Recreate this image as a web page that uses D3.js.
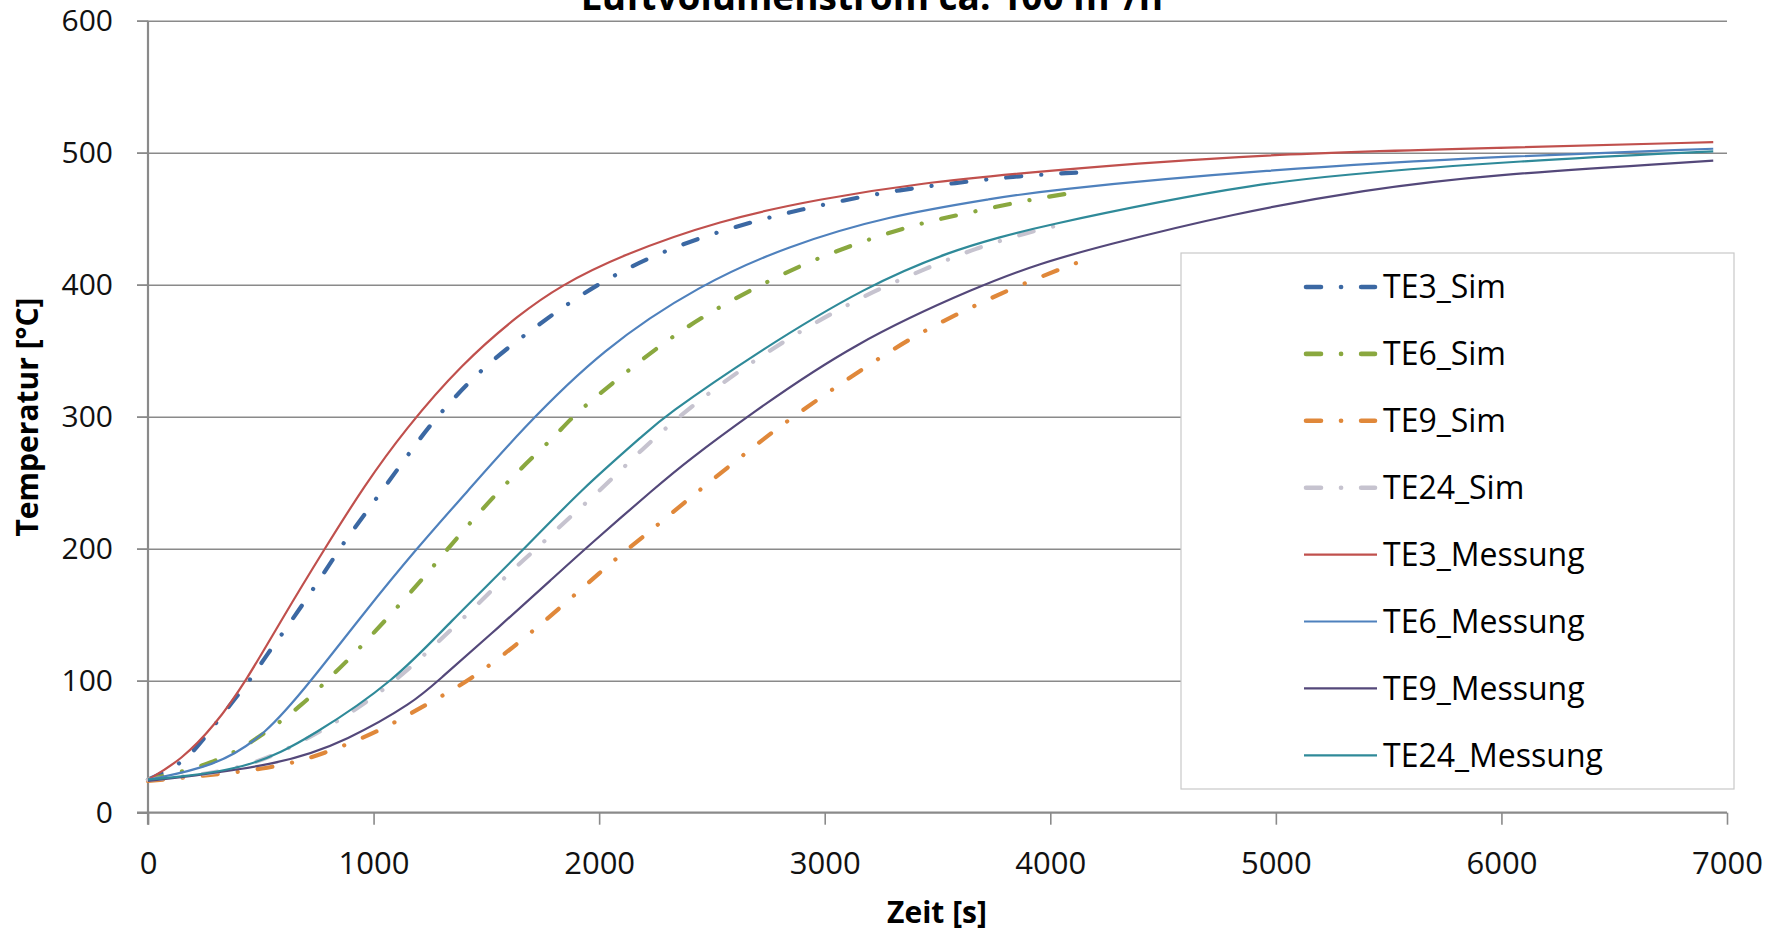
<!DOCTYPE html>
<html>
<head>
<meta charset="utf-8">
<script src="https://cdn.jsdelivr.net/npm/d3@7/dist/d3.min.js"></script>
<style>
  body { margin: 0; background: #fff; }
  svg { display: block; }
</style>
</head>
<body>
<svg id="chart"></svg>
<script>
// axis ticks
const xTicks = [0, 1000, 2000, 3000, 4000, 5000, 6000, 7000]
const yTicks = [0, 100, 200, 300, 400, 500, 600]

// series: [Zeit s, Temperatur °C]
const te3Sim = [[0, 25], [148, 37], [222, 50], [392, 88], [451, 100], [532, 121], [606, 138], [751, 174], [850, 200], [887, 209], [1034, 243], [1190, 280], [1280, 300], [1480, 337], [1708, 367], [1922, 393], [2137, 414], [2369, 431], [2602, 444], [2843, 455], [3085, 464], [3334, 472], [3577, 477], [3829, 482], [4117, 485]]
const te6Sim = [[0, 25], [296, 37], [488, 56], [702, 84], [790, 100], [879, 114], [1049, 145], [1212, 176], [1330, 200], [1374, 209], [1544, 242], [1714, 271], [1810, 286], [1885, 301], [2085, 329], [2284, 356], [2488, 379], [2706, 399], [2935, 418], [3171, 433], [3407, 446], [3651, 455], [3895, 464], [4114, 470]]
const te9Sim = [[0, 24], [562, 33], [783, 45], [1020, 61], [1234, 82], [1426, 100], [1640, 128], [1832, 156], [2010, 183], [2128, 200], [2217, 212], [2406, 239], [2595, 265], [2794, 292], [2994, 316], [3201, 340], [3415, 363], [3637, 382], [3866, 400], [4124, 417]]
const te24Sim = [[0, 25], [400, 31], [680, 53], [887, 74], [1101, 100], [1278, 128], [1463, 158], [1640, 188], [1736, 202], [1825, 217], [2017, 246], [2187, 275], [2373, 303], [2573, 329], [2780, 353], [2994, 375], [3215, 395], [3445, 412], [3673, 428], [3910, 440], [4036, 445]]
const te3Mess = [[0, 25], [148, 40], [296, 66], [436, 100], [591, 146], [783, 200], [960, 248], [1138, 290], [1390, 340], [1649, 378], [1826, 399], [2092, 422], [2536, 449], [2979, 465], [3422, 477], [3954, 486], [4900, 499], [6082, 504], [6939, 508]]
const te6Mess = [[0, 25], [296, 35], [517, 58], [724, 100], [960, 152], [1190, 200], [1419, 244], [1649, 289], [2018, 352], [2447, 400], [2831, 429], [3275, 452], [3777, 466], [3954, 471], [4930, 487], [6082, 498], [6939, 503]]
const te9Mess = [[0, 24], [591, 36], [887, 55], [1182, 84], [1285, 100], [1552, 140], [1797, 178], [1951, 202], [2261, 248], [2388, 266], [2654, 300], [3127, 356], [3696, 400], [3954, 416], [4220, 429], [4811, 454], [5402, 472], [5919, 483], [6939, 494]]
const te24Mess = [[0, 25], [443, 32], [739, 59], [1094, 100], [1330, 143], [1670, 200], [1921, 245], [2217, 289], [2280, 299], [2683, 347], [3193, 400], [3570, 426], [3777, 436], [3954, 444], [4516, 464], [4885, 475], [5255, 483], [6082, 494], [6939, 501]]

const seriesNames = ['TE3_Sim', 'TE6_Sim', 'TE9_Sim', 'TE24_Sim', 'TE3_Messung', 'TE6_Messung', 'TE9_Messung', 'TE24_Messung']
const seriesData = [te3Sim, te6Sim, te9Sim, te24Sim, te3Mess, te6Mess, te9Mess, te24Mess]
const seriesColors = ['#3b68a3', '#8aa83f', '#e0883a', '#c6c3cf', '#c0504d', '#4f81bd', '#54487a', '#2f8a99']

const W = 1781
const H = 932
const font = '"Open Sans", "Noto Sans", sans-serif'

const svg = d3.select('#chart').attr('width', W).attr('height', H)

const x = d3.scaleLinear().domain([0, 7000]).range([148, 1727])
const y = d3.scaleLinear().domain([0, 600]).range([812.7, 20.7])

// horizontal grid + left tick stubs
const gridAxis = d3.axisLeft(y).tickValues(yTicks.slice(1)).tickSize(-(1727 - 137)).tickFormat('')
svg.append('g')
  .attr('transform', 'translate(137,0)')
  .call(gridAxis)
  .call((g) => g.select('.domain').remove())
  .call((g) => g.selectAll('line').attr('stroke', '#8a8a8a').attr('stroke-width', 1.6))

// y axis labels
const yAxis = d3.axisLeft(y).tickValues(yTicks).tickSize(11).tickPadding(24)
svg.append('g')
  .attr('transform', 'translate(148,0)')
  .call(yAxis)
  .call((g) => g.select('.domain').remove())
  .call((g) => g.selectAll('line').attr('stroke', '#8a8a8a').attr('stroke-width', 1.6))
  .call((g) => g.selectAll('text').attr('font-family', font).attr('font-size', 30).attr('fill', '#111'))

// x axis
const xAxis = d3.axisBottom(x).tickValues(xTicks).tickFormat(d3.format('d')).tickSize(12).tickPadding(27)
svg.append('g')
  .attr('transform', `translate(0,${y(0)})`)
  .call(xAxis)
  .call((g) => g.select('.domain').remove())
  .call((g) => g.selectAll('line').attr('stroke', '#8a8a8a').attr('stroke-width', 1.6))
  .call((g) => g.selectAll('text').attr('font-family', font).attr('font-size', 31).attr('fill', '#111'))

// axis lines
svg.append('line')
  .attr('x1', 137).attr('x2', 1727)
  .attr('y1', y(0)).attr('y2', y(0))
  .attr('stroke', '#8a8a8a').attr('stroke-width', 2.2)
svg.append('line')
  .attr('x1', 148).attr('x2', 148)
  .attr('y1', y(600)).attr('y2', y(0) + 12)
  .attr('stroke', '#8a8a8a').attr('stroke-width', 2.2)

// lines
const line = d3.line()
  .x((d) => x(d[0]))
  .y((d) => y(d[1]))
  .curve(d3.curveBasis)

const simDash = '15 20 0.1 20'

svg.append('g')
  .selectAll('path')
  .data(seriesData)
  .join('path')
  .attr('d', line)
  .attr('fill', 'none')
  .attr('stroke', (_, i) => seriesColors[i])
  .attr('stroke-width', (_, i) => (i < 4 ? 4.2 : 2.2))
  .attr('stroke-linecap', (_, i) => (i < 4 ? 'round' : 'butt'))
  .attr('stroke-dasharray', (_, i) => (i < 4 ? simDash : null))

// title (cut off at the top, as in the original)
svg.append('text')
  .attr('x', 872)
  .attr('y', 10)
  .attr('text-anchor', 'middle')
  .attr('font-family', font)
  .attr('font-weight', 'bold')
  .attr('font-size', 37)
  .attr('fill', '#000')
  .text('Luftvolumenstrom ca. 100 m³/h')

// axis titles
svg.append('text')
  .attr('x', 937)
  .attr('y', 923)
  .attr('text-anchor', 'middle')
  .attr('font-family', font)
  .attr('font-weight', 'bold')
  .attr('font-size', 30)
  .attr('fill', '#000')
  .text('Zeit [s]')

svg.append('text')
  .attr('transform', 'translate(38,417) rotate(-90)')
  .attr('text-anchor', 'middle')
  .attr('font-family', font)
  .attr('font-weight', 'bold')
  .attr('font-size', 30)
  .attr('fill', '#000')
  .text('Temperatur [°C]')

// legend
const legend = svg.append('g')
legend.append('rect')
  .attr('x', 1181).attr('y', 253)
  .attr('width', 1734 - 1181).attr('height', 789 - 253)
  .attr('fill', '#fff')
  .attr('stroke', '#c9c9c9')
  .attr('stroke-width', 1.2)

const items = legend.selectAll('g.item')
  .data(seriesNames)
  .join('g')
  .attr('class', 'item')
  .attr('transform', (_, i) => `translate(0,${287 + i * 66.9})`)

items.append('line')
  .attr('x1', (_, i) => (i < 4 ? 1306 : 1304))
  .attr('x2', (_, i) => (i < 4 ? 1375 : 1377))
  .attr('stroke', (_, i) => seriesColors[i])
  .attr('stroke-width', (_, i) => (i < 4 ? 4.6 : 2.2))
  .attr('stroke-linecap', (_, i) => (i < 4 ? 'round' : 'butt'))
  .attr('stroke-dasharray', (_, i) => (i < 4 ? simDash : null))

items.append('text')
  .attr('x', 1383)
  .attr('dy', '0.35em')
  .attr('font-family', font)
  .attr('font-size', 32)
  .attr('fill', '#000')
  .text((d) => d)
</script>
</body>
</html>
